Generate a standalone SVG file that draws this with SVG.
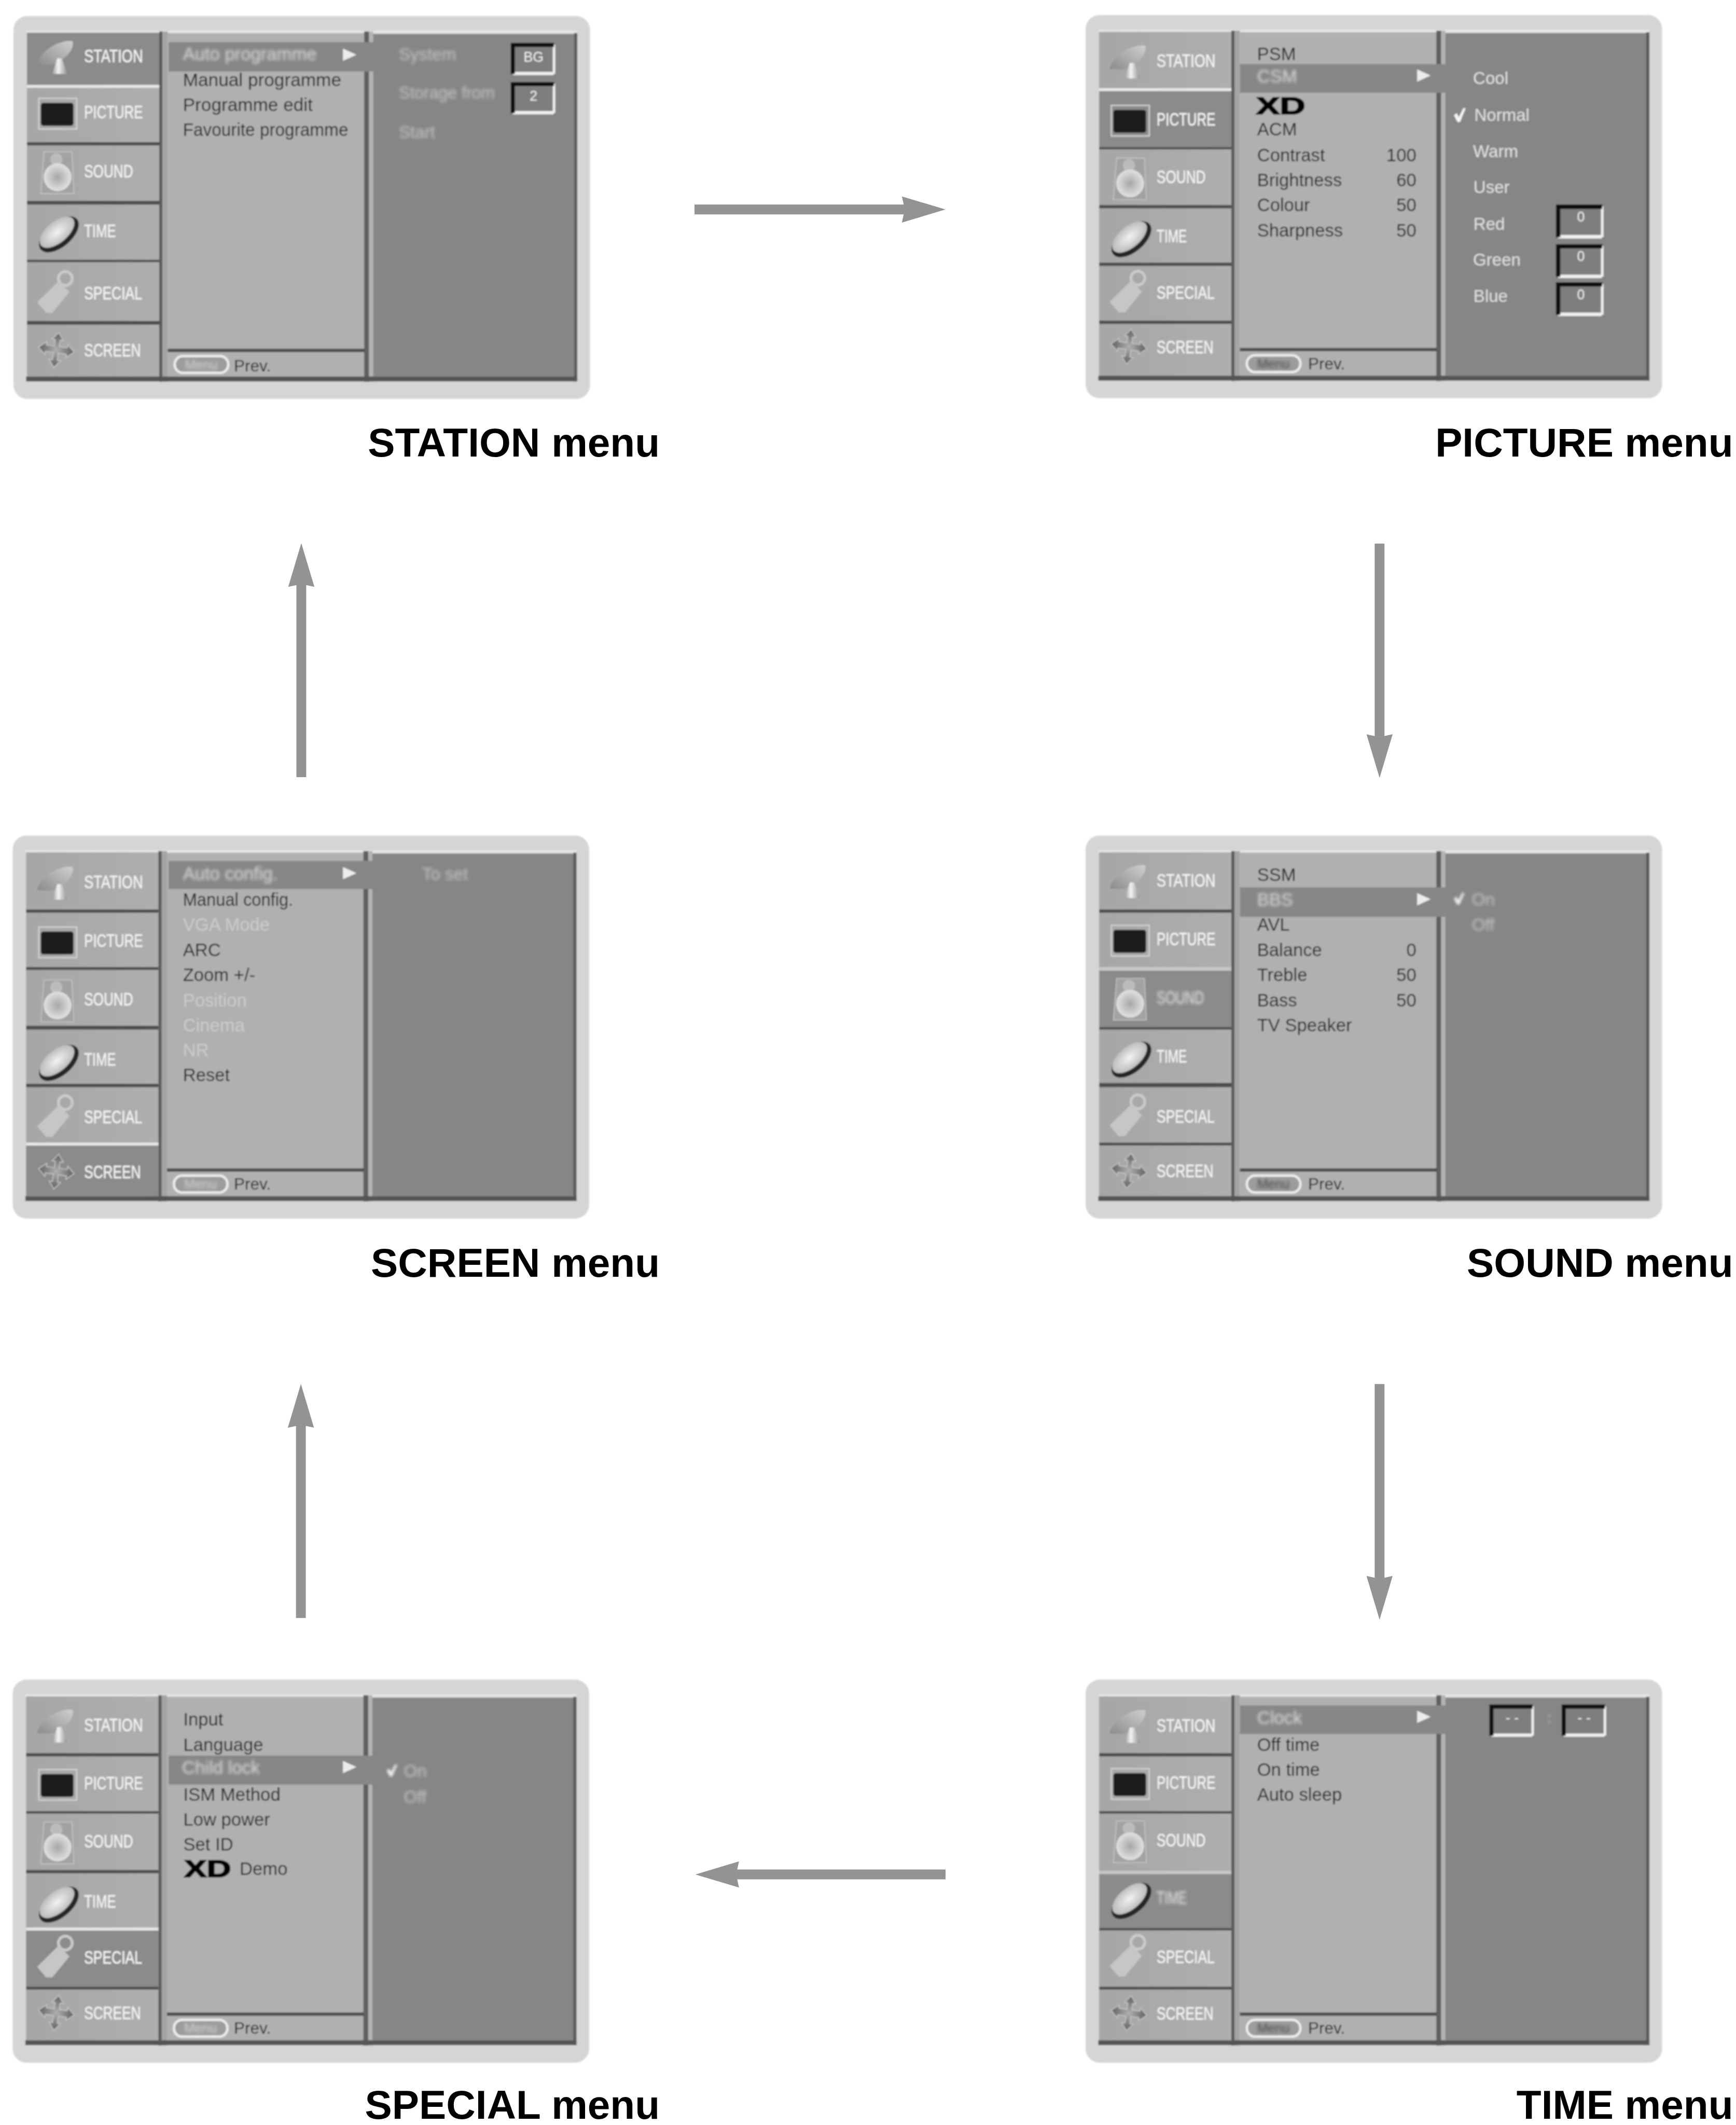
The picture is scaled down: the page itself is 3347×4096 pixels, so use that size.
<svg xmlns="http://www.w3.org/2000/svg" width="3347" height="4096" viewBox="0 0 3347 4096">
<style>
text{font-family:"Liberation Sans",Arial,sans-serif}
.m{font-size:44px;fill:#1c1c1c}
.g{font-size:44px;fill:#cbcbcb}
.w{font-size:42px;fill:#e0e0e0}
.h{font-size:44px;fill:#dcdcdc;filter:url(#b3)}
.f{font-size:42px;fill:#c4c4c4;filter:url(#b3)}
.s{font-size:44px;fill:#f4f4f4;stroke:#f4f4f4;stroke-width:.6}
.sb{font-size:44px;fill:#e8e8e8;filter:url(#b3)}
.v{font-size:34px;fill:#f0f0f0;text-anchor:middle}
.e{text-anchor:end}
.t{font-size:99.5px;font-weight:700;fill:#000;text-anchor:end}
.p{font-size:40px;fill:#1c1c1c}
.mn{font-size:32px;text-anchor:middle;filter:url(#b3)}
.xd{font-size:58px;font-weight:700;fill:#000;stroke:#000;stroke-width:2.5}
.d{fill:#4e4e4e}
.l{fill:#e8e8e8}
.l2{fill:#c6c6c6}
.a{fill:#8b8b8b}
.b{fill:#878787}
.arrow{stroke:#939393;stroke-width:24;fill:none}
</style>
<defs>
<filter id="soft" x="-2%" y="-2%" width="104%" height="104%"><feGaussianBlur stdDeviation="1.7"/></filter>
<filter id="b3" x="-15%" y="-40%" width="130%" height="180%"><feGaussianBlur stdDeviation="3.2"/></filter>
<linearGradient id="gside" x1="0" y1="0" x2="1" y2="0"><stop offset="0" stop-color="#a6a6a6"/><stop offset="1" stop-color="#aeaeae"/></linearGradient>
<linearGradient id="gdish" x1="0" y1="1" x2="1" y2="0"><stop offset="0" stop-color="#8a8a8a"/><stop offset="1" stop-color="#cfcfcf"/></linearGradient>
<linearGradient id="gstand" x1="0" y1="0" x2="1" y2="0"><stop offset="0" stop-color="#9a9a9a"/><stop offset=".4" stop-color="#f4f4f4"/><stop offset="1" stop-color="#8f8f8f"/></linearGradient>
<radialGradient id="gspk"><stop offset="0" stop-color="#a6a6a6"/><stop offset="1" stop-color="#e2e2e2"/></radialGradient>
<radialGradient id="gclk"><stop offset="0" stop-color="#f2f2f2"/><stop offset="1" stop-color="#bcbcbc"/></radialGradient>
<radialGradient id="gcross"><stop offset="0" stop-color="#b0b0b0"/><stop offset="1" stop-color="#5e5e5e"/></radialGradient>
<marker id="head" viewBox="0 0 107 64" refX="7" refY="32" markerWidth="107" markerHeight="64" markerUnits="userSpaceOnUse" orient="auto"><path d="M0 0L107 32L0 64L7 32Z" fill="#939393"/></marker>
<g id="base">
<rect width="1412" height="938" rx="34" fill="#d5d5d5"/>
<rect x="31" y="36" width="1350" height="6" fill="#e6e6e6"/>
<rect x="33" y="41" width="324" height="842" fill="url(#gside)"/>
<rect x="357" y="38" width="8" height="858" fill="#5a5a5a"/>
<rect x="365" y="38" width="13" height="858" fill="#a4a4a4"/>
<rect x="378" y="42" width="482" height="841" fill="#b0b0b0"/>
<rect x="859" y="38" width="12" height="858" fill="#606060"/>
<rect x="871" y="38" width="10" height="858" fill="#b4b4b4"/>
<rect x="881" y="44" width="492" height="839" fill="#868686"/>
<rect x="1373" y="42" width="8" height="853" fill="#5a5a5a"/>
<rect x="31" y="883" width="1350" height="12" fill="#555"/>
<rect x="378" y="815" width="482" height="8" fill="#4e4e4e"/>
<rect x="395" y="833" width="131" height="41" rx="20" fill="#9c9c9c" stroke="#ececec" stroke-width="6"/>
</g>
<g id="i-dish"><path d="M-115 5C-112-24-62-58-28-52C-22-30-55 2-84 6Z" fill="url(#gdish)"/><path d="M-78 28L-66-10L-55-10L-41 28Z" fill="url(#gstand)"/></g>
<g id="i-tv"><rect x="-111" y="-49" width="93" height="75" fill="none" stroke="#d4d4d4" stroke-width="3"/><rect x="-106" y="-38" width="80" height="56" rx="6" fill="#1d1d1d"/></g>
<g id="i-spk"><path d="M-98-62L-30-62L-25 40L-106 40Z" fill="#a2a2a2" stroke="#c8c8c8" stroke-width="2"/><circle cx="-68" cy="-44" r="15" fill="#bcbcbc"/><circle cx="-65" cy="0" r="34" fill="url(#gspk)"/></g>
<g id="i-clk"><g transform="rotate(-40 -65 -11)"><ellipse cx="-65" cy="-6" rx="58" ry="31" fill="#262626"/><ellipse cx="-65" cy="-13" rx="51" ry="26" fill="url(#gclk)"/></g></g>
<g id="i-tag"><circle cx="-46" cy="-51" r="17" fill="none" stroke="#cacaca" stroke-width="7"/><path d="M-115 7L-62-45L-36-18L-78 33L-93 33Z" fill="#c6c6c6"/></g>
<g id="i-cross"><path transform="translate(-68 -17) rotate(8)" d="M0-42L14-24L6-24L6-8L26-8L26-16L44 0L26 16L26 8L6 8L6 26L14 26L0 44L-14 26L-6 26L-6 8L-26 8L-26 16L-44 0L-26-16L-26-8L-6-8L-6-24L-14-24Z" fill="url(#gcross)" stroke="#c9c9c9" stroke-width="2"/></g>
<g id="box"><rect width="110" height="80" fill="#7e7e7e"/><path d="M105 75H5" fill="none" stroke="#f0f0f0" stroke-width="8"/><path d="M106 76V4" fill="none" stroke="#f0f0f0" stroke-width="6"/><path d="M5 76V5H106" fill="none" stroke="#0d0d0d" stroke-width="10"/></g>
<path id="tri" d="M0-15L33 0L0 15Z" fill="#ececec"/>
<path id="chk" d="M0 17L7 12L12 22L23 0L29 0L15 34L9 34Z" fill="#f4f4f4"/>
</defs>
<rect width="3347" height="4096" fill="#fff"/>
<g transform="scale(.78716)">

<g id="connectors">
<line class="arrow" id="station-to-picture" x1="1701" y1="513" x2="2216" y2="513" marker-end="url(#head)"/>
<line class="arrow" id="picture-to-sound" x1="3379" y1="1331" x2="3379" y2="1805" marker-end="url(#head)"/>
<line class="arrow" id="sound-to-time" x1="3379" y1="3389" x2="3379" y2="3866" marker-end="url(#head)"/>
<line class="arrow" id="time-to-special" x1="2316" y1="4590" x2="1803" y2="4590" marker-end="url(#head)"/>
<line class="arrow" id="special-to-screen" x1="737" y1="3962" x2="737" y2="3489" marker-end="url(#head)"/>
<line class="arrow" id="screen-to-station" x1="738" y1="1903" x2="738" y2="1430" marker-end="url(#head)"/>
</g>

<g id="station-menu">
<g transform="translate(33 39)" filter="url(#soft)">
<use href="#base"/>
<rect class="a" x="33" y="41" width="324" height="128"/>
<path class="l" d="M33 169h324v7H33z"/>
<path class="d" d="M33 309h324v8H33zM33 453h324v9H33zM33 597h324v6H33zM33 747h324v9H33z"/>
<use href="#i-dish" x="173" y="114"/><use href="#i-tv" x="173" y="251"/><use href="#i-spk" x="173" y="395"/><use href="#i-clk" x="173" y="542"/><use href="#i-tag" x="173" y="694"/><use href="#i-cross" x="173" y="834"/>
<text class="s" x="173" y="114" textLength="144" lengthAdjust="spacingAndGlyphs">STATION</text>
<text class="s" x="173" y="251" textLength="144" lengthAdjust="spacingAndGlyphs">PICTURE</text>
<text class="s" x="173" y="395" textLength="120" lengthAdjust="spacingAndGlyphs">SOUND</text>
<text class="s" x="173" y="542" textLength="78" lengthAdjust="spacingAndGlyphs">TIME</text>
<text class="s" x="173" y="694" textLength="142" lengthAdjust="spacingAndGlyphs">SPECIAL</text>
<text class="s" x="173" y="834" textLength="139" lengthAdjust="spacingAndGlyphs">SCREEN</text>
<rect class="b" x="380" y="64" width="502" height="72"/>
<text class="h" x="415" y="109">Auto programme</text>
<use href="#tri" x="807" y="95"/>
<text class="m" x="415" y="172" textLength="388" lengthAdjust="spacingAndGlyphs">Manual programme</text>
<text class="m" x="415" y="233" textLength="318" lengthAdjust="spacingAndGlyphs">Programme edit</text>
<text class="m" x="415" y="294" textLength="405" lengthAdjust="spacingAndGlyphs">Favourite programme</text>
<text class="f" x="944" y="109">System</text>
<text class="f" x="944" y="203" textLength="235" lengthAdjust="spacingAndGlyphs">Storage from</text>
<text class="f" x="944" y="299">Start</text>
<use href="#box" transform="translate(1218 66)"/>
<use href="#box" transform="translate(1218 162)"/>
<text class="v" x="1274" y="112">BG</text>
<text class="v" x="1274" y="208">2</text>
<text class="mn" x="460" y="865" fill="#d4d4d4">Menu</text>
<text class="p" x="540" y="870">Prev.</text>
</g>
<text class="t" x="1616" y="1118">STATION menu</text>
</g>

<g id="picture-menu">
<g transform="translate(2659 37)" filter="url(#soft)">
<use href="#base"/>
<rect class="a" x="33" y="186" width="324" height="137"/>
<path class="l" d="M33 179h324v7H33z"/>
<path class="d" d="M33 323h324v6H33zM33 465h324v8H33zM33 606h324v8H33zM33 748h324v8H33z"/>
<use href="#i-dish" x="174" y="127"/><use href="#i-tv" x="174" y="270"/><use href="#i-spk" x="174" y="412"/><use href="#i-clk" x="174" y="556"/><use href="#i-tag" x="174" y="695"/><use href="#i-cross" x="174" y="828"/>
<text class="s" x="174" y="127" textLength="144" lengthAdjust="spacingAndGlyphs">STATION</text>
<text class="s" x="174" y="270" textLength="144" lengthAdjust="spacingAndGlyphs">PICTURE</text>
<text class="s" x="174" y="412" textLength="120" lengthAdjust="spacingAndGlyphs">SOUND</text>
<text class="s" x="174" y="556" textLength="74" lengthAdjust="spacingAndGlyphs">TIME</text>
<text class="s" x="174" y="695" textLength="142" lengthAdjust="spacingAndGlyphs">SPECIAL</text>
<text class="s" x="174" y="828" textLength="139" lengthAdjust="spacingAndGlyphs">SCREEN</text>
<text class="m" x="420" y="111">PSM</text>
<rect class="b" x="378" y="120" width="504" height="70"/>
<text class="h" x="420" y="165">CSM</text>
<use href="#tri" x="812" y="148"/>
<text class="xd" x="418" y="243" textLength="120" lengthAdjust="spacingAndGlyphs">XD</text>
<text class="m" x="420" y="295">ACM</text>
<text class="m" x="420" y="358">Contrast</text><text class="m e" x="810" y="358">100</text>
<text class="m" x="420" y="419">Brightness</text><text class="m e" x="810" y="419">60</text>
<text class="m" x="420" y="480">Colour</text><text class="m e" x="810" y="480">50</text>
<text class="m" x="420" y="542">Sharpness</text><text class="m e" x="810" y="542">50</text>
<text class="w" x="949" y="169">Cool</text>
<use href="#chk" x="902" y="228"/>
<text class="w" x="952" y="259">Normal</text>
<text class="w" x="949" y="348">Warm</text>
<text class="w" x="950" y="436">User</text>
<text class="w" x="950" y="526">Red</text>
<text class="w" x="949" y="614">Green</text>
<text class="w" x="950" y="702">Blue</text>
<use href="#box" transform="translate(1152 464) scale(1.07 1.05)"/>
<use href="#box" transform="translate(1152 561) scale(1.07 1.05)"/>
<use href="#box" transform="translate(1152 654) scale(1.07 1.05)"/>
<text class="v" x="1213" y="506">0</text>
<text class="v" x="1213" y="602">0</text>
<text class="v" x="1213" y="696">0</text>
<text class="mn" x="460" y="865" fill="#4a4a4a">Menu</text>
<text class="p" x="545" y="867">Prev.</text>
</g>
<text class="t" x="4245" y="1118">PICTURE menu</text>
</g>

<g id="screen-menu">
<g transform="translate(31 2046)" filter="url(#soft)">
<use href="#base"/>
<rect class="a" x="33" y="759" width="324" height="124"/>
<path class="l" d="M33 752h324v7H33z"/>
<path class="d" d="M33 181h324v8H33zM33 322h324v7H33zM33 466h324v9H33zM33 608h324v8H33z"/>
<use href="#i-dish" x="175" y="129"/><use href="#i-tv" x="175" y="273"/><use href="#i-spk" x="175" y="416"/><use href="#i-clk" x="175" y="564"/><use href="#i-tag" x="175" y="705"/><use href="#i-cross" x="175" y="839"/>
<text class="s" x="175" y="129" textLength="144" lengthAdjust="spacingAndGlyphs">STATION</text>
<text class="s" x="175" y="273" textLength="144" lengthAdjust="spacingAndGlyphs">PICTURE</text>
<text class="s" x="175" y="416" textLength="120" lengthAdjust="spacingAndGlyphs">SOUND</text>
<text class="s" x="175" y="564" textLength="78" lengthAdjust="spacingAndGlyphs">TIME</text>
<text class="s" x="175" y="705" textLength="142" lengthAdjust="spacingAndGlyphs">SPECIAL</text>
<text class="s" x="175" y="839" textLength="139" lengthAdjust="spacingAndGlyphs">SCREEN</text>
<rect class="b" x="382" y="62" width="500" height="69"/>
<text class="h" x="417" y="108">Auto config.</text>
<use href="#tri" x="809" y="92"/>
<text class="m" x="417" y="172" textLength="270" lengthAdjust="spacingAndGlyphs">Manual config.</text>
<text class="g" x="417" y="233">VGA Mode</text>
<text class="m" x="417" y="295">ARC</text>
<text class="m" x="417" y="356">Zoom +/-</text>
<text class="g" x="417" y="418">Position</text>
<text class="g" x="417" y="479">Cinema</text>
<text class="g" x="417" y="541">NR</text>
<text class="m" x="417" y="601">Reset</text>
<text class="f" x="1003" y="108">To set</text>
<text class="mn" x="460" y="865" fill="#d4d4d4">Menu</text>
<text class="p" x="542" y="867">Prev.</text>
</g>
<text class="t" x="1616" y="3127">SCREEN menu</text>
</g>

<g id="sound-menu">
<g transform="translate(2659 2046)" filter="url(#soft)">
<use href="#base"/>
<rect class="a" x="33" y="331" width="324" height="138"/>
<path class="l2" d="M33 322h324v9H33z"/>
<path class="d" d="M33 181h324v8H33zM33 469h324v6H33zM33 606h324v10H33zM33 752h324v7H33z"/>
<use href="#i-dish" x="174" y="125"/><use href="#i-tv" x="174" y="269"/><use href="#i-spk" x="174" y="412"/><use href="#i-clk" x="174" y="556"/><use href="#i-tag" x="174" y="703"/><use href="#i-cross" x="174" y="837"/>
<text class="s" x="174" y="125" textLength="144" lengthAdjust="spacingAndGlyphs">STATION</text>
<text class="s" x="174" y="269" textLength="144" lengthAdjust="spacingAndGlyphs">PICTURE</text>
<text class="sb" x="174" y="412" textLength="116" lengthAdjust="spacingAndGlyphs">SOUND</text>
<text class="s" x="174" y="556" textLength="74" lengthAdjust="spacingAndGlyphs">TIME</text>
<text class="s" x="174" y="703" textLength="142" lengthAdjust="spacingAndGlyphs">SPECIAL</text>
<text class="s" x="174" y="837" textLength="139" lengthAdjust="spacingAndGlyphs">SCREEN</text>
<text class="m" x="420" y="111">SSM</text>
<rect class="b" x="378" y="127" width="504" height="72"/>
<text class="h" x="420" y="172">BBS</text>
<use href="#tri" x="812" y="156"/>
<text class="m" x="420" y="233">AVL</text>
<text class="m" x="420" y="295">Balance</text><text class="m e" x="810" y="295">0</text>
<text class="m" x="420" y="356">Treble</text><text class="m e" x="810" y="356">50</text>
<text class="m" x="420" y="418">Bass</text><text class="m e" x="810" y="418">50</text>
<text class="m" x="420" y="479">TV Speaker</text>
<use href="#chk" transform="translate(902 140) scale(.9 .85)" filter="url(#b3)"/>
<text class="f" x="946" y="171">On</text>
<text class="f" x="946" y="233">Off</text>
<text class="mn" x="460" y="865" fill="#4a4a4a">Menu</text>
<text class="p" x="545" y="867">Prev.</text>
</g>
<text class="t" x="4245" y="3127">SOUND menu</text>
</g>

<g id="special-menu">
<g transform="translate(31 4113)" filter="url(#soft)">
<use href="#base"/>
<rect class="a" x="33" y="614" width="324" height="138"/>
<path class="l" d="M33 607h324v7H33z"/>
<path class="d" d="M33 180h324v8H33zM33 322h324v6H33zM33 466h324v8H33zM33 752h324v7H33z"/>
<use href="#i-dish" x="175" y="126"/><use href="#i-tv" x="175" y="269"/><use href="#i-spk" x="175" y="411"/><use href="#i-clk" x="175" y="558"/><use href="#i-tag" x="175" y="696"/><use href="#i-cross" x="175" y="832"/>
<text class="s" x="175" y="126" textLength="144" lengthAdjust="spacingAndGlyphs">STATION</text>
<text class="s" x="175" y="269" textLength="144" lengthAdjust="spacingAndGlyphs">PICTURE</text>
<text class="s" x="175" y="411" textLength="120" lengthAdjust="spacingAndGlyphs">SOUND</text>
<text class="s" x="175" y="558" textLength="78" lengthAdjust="spacingAndGlyphs">TIME</text>
<text class="s" x="175" y="696" textLength="142" lengthAdjust="spacingAndGlyphs">SPECIAL</text>
<text class="s" x="175" y="832" textLength="139" lengthAdjust="spacingAndGlyphs">SCREEN</text>
<text class="m" x="418" y="112">Input</text>
<text class="m" x="418" y="174">Language</text>
<rect class="b" x="382" y="186" width="500" height="71"/>
<text class="h" x="415" y="230">Child lock</text>
<use href="#tri" x="809" y="214"/>
<text class="m" x="418" y="296" textLength="238" lengthAdjust="spacingAndGlyphs">ISM Method</text>
<text class="m" x="418" y="357">Low power</text>
<text class="m" x="418" y="418">Set ID</text>
<text class="xd" x="420" y="483" textLength="115" lengthAdjust="spacingAndGlyphs">XD</text>
<text class="m" x="556" y="478">Demo</text>
<use href="#chk" transform="translate(916 208) scale(.9 .85)" filter="url(#b3)"/>
<text class="f" x="958" y="238">On</text>
<text class="f" x="958" y="301">Off</text>
<text class="mn" x="460" y="865" fill="#d4d4d4">Menu</text>
<text class="p" x="542" y="867">Prev.</text>
</g>
<text class="t" x="1616" y="5188">SPECIAL menu</text>
</g>

<g id="time-menu">
<g transform="translate(2659 4113)" filter="url(#soft)">
<use href="#base"/>
<rect class="a" x="33" y="476" width="324" height="132"/>
<path class="l2" d="M33 468h324v8H33z"/>
<path class="d" d="M33 180h324v8H33zM33 322h324v6H33zM33 608h324v6H33zM33 752h324v7H33z"/>
<use href="#i-dish" x="174" y="127"/><use href="#i-tv" x="174" y="267"/><use href="#i-spk" x="174" y="408"/><use href="#i-clk" x="174" y="549"/><use href="#i-tag" x="174" y="694"/><use href="#i-cross" x="174" y="833"/>
<text class="s" x="174" y="127" textLength="144" lengthAdjust="spacingAndGlyphs">STATION</text>
<text class="s" x="174" y="267" textLength="144" lengthAdjust="spacingAndGlyphs">PICTURE</text>
<text class="s" x="174" y="408" textLength="120" lengthAdjust="spacingAndGlyphs">SOUND</text>
<text class="sb" x="174" y="549" textLength="74" lengthAdjust="spacingAndGlyphs">TIME</text>
<text class="s" x="174" y="694" textLength="142" lengthAdjust="spacingAndGlyphs">SPECIAL</text>
<text class="s" x="174" y="833" textLength="139" lengthAdjust="spacingAndGlyphs">SCREEN</text>
<rect class="b" x="378" y="63" width="504" height="70"/>
<text class="h" x="420" y="109">Clock</text>
<use href="#tri" x="812" y="91"/>
<text class="m" x="420" y="174">Off time</text>
<text class="m" x="420" y="235">On time</text>
<text class="m" x="420" y="296">Auto sleep</text>
<use href="#box" transform="translate(989 61)"/>
<use href="#box" transform="translate(1166 61)"/>
<text class="v" x="1045" y="105">- -</text>
<text class="v" x="1221" y="105">- -</text>
<text class="v" x="1135" y="105" style="filter:url(#b3)">:</text>
<text class="mn" x="460" y="865" fill="#4a4a4a">Menu</text>
<text class="p" x="545" y="867">Prev.</text>
</g>
<text class="t" x="4245" y="5188">TIME menu</text>
</g>

</g>
</svg>
